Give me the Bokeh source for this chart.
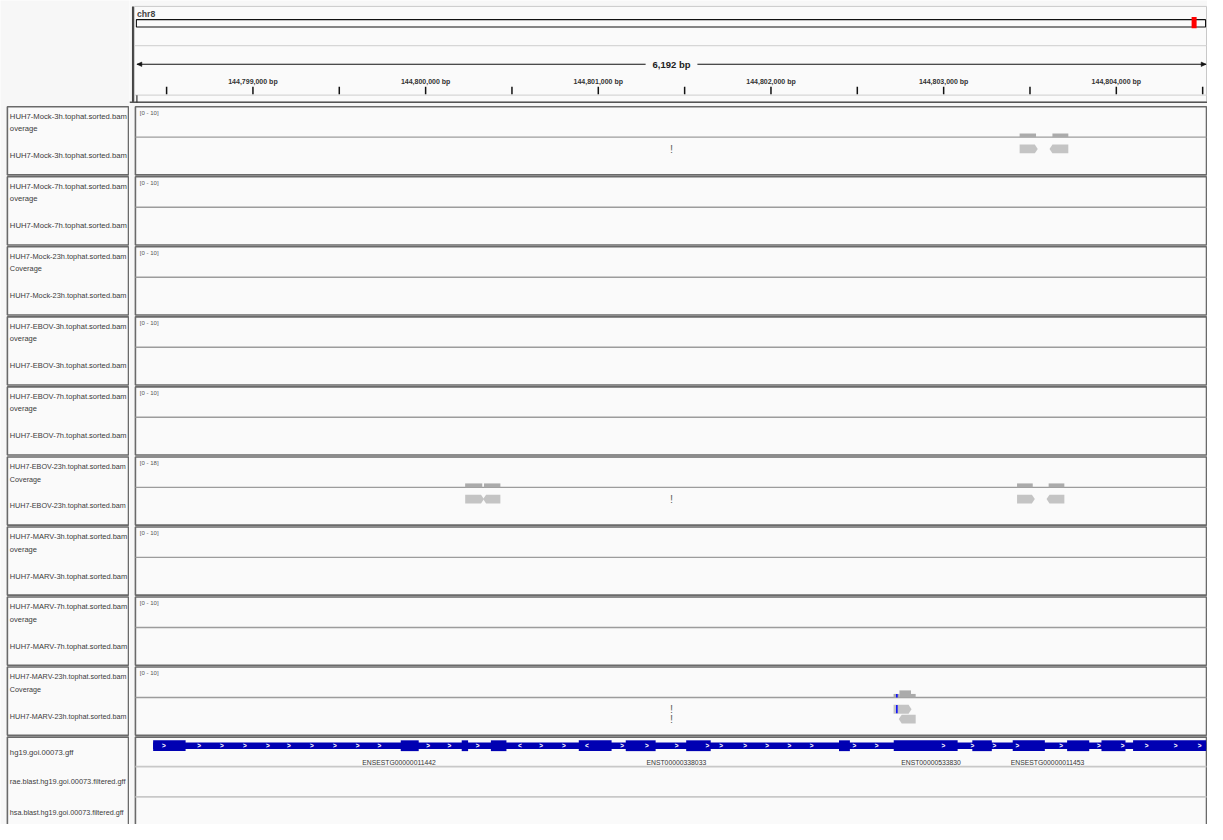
from bokeh.plotting import figure
from bokeh.models import Range1d
from bokeh.layouts import row
from bokeh.core.properties import value
from bokeh.embed import file_html
from bokeh.resources import INLINE

# ---------------- data ----------------
CHROM = "chr8"
CHROM_LEN = 146364022
VIEW_START = 144798328
VIEW_END = 144804520
SPAN_LABEL = "6,192 bp"

TICKS = [144798500, 144799000, 144799500, 144800000, 144800500, 144801000, 144801500,
         144802000, 144802500, 144803000, 144803500, 144804000, 144804500]
LABEL_TICKS = [144799000, 144800000, 144801000, 144802000, 144803000, 144804000]
TICK_LABELS = ["144,799,000 bp", "144,800,000 bp", "144,801,000 bp",
               "144,802,000 bp", "144,803,000 bp", "144,804,000 bp"]

TRACK_NAMES = ["HUH7-Mock-3h.tophat.sorted.bam", "HUH7-Mock-7h.tophat.sorted.bam",
               "HUH7-Mock-23h.tophat.sorted.bam", "HUH7-EBOV-3h.tophat.sorted.bam",
               "HUH7-EBOV-7h.tophat.sorted.bam", "HUH7-EBOV-23h.tophat.sorted.bam",
               "HUH7-MARV-3h.tophat.sorted.bam", "HUH7-MARV-7h.tophat.sorted.bam",
               "HUH7-MARV-23h.tophat.sorted.bam"]
COV_CAPTIONS = ["overage", "overage", "Coverage", "overage", "overage", "Coverage",
                "overage", "overage", "Coverage"]
SCALE_MAX = [10, 10, 10, 10, 10, 18, 10, 10, 10]

COV_TRACK = [0, 0, 5, 5, 5, 5, 8, 8, 8]
COV_START = [144803440, 144803630, 144800229, 144800338, 144803425, 144803608,
             144802710, 144802744, 144802811]
COV_END = [144803535, 144803722, 144800328, 144800433, 144803516, 144803699,
           144802744, 144802811, 144802838]
COV_VALUE = [1, 1, 2, 2, 2, 2, 1, 2, 1]

READ_TRACK = [0, 0, 5, 5, 5, 5, 8, 8]
READ_START = [144803440, 144803613, 144800229, 144800333, 144803425, 144803596,
              144802710, 144802740]
READ_END = [144803545, 144803722, 144800338, 144800433, 144803528, 144803699,
            144802814, 144802838]
READ_STRAND = ["+", "-", "+", "-", "+", "-", "+", "-"]
READ_ROW = [0, 0, 0, 0, 0, 0, 0, 1]

MISMATCH_TRACK = [8]
MISMATCH_POS = [144802729]
MISMATCH_ROW = [0]
MISMATCH_COLOR = ["#0000FF"]

MARK_TRACK = [0, 5, 8, 8]
MARK_ROW = [0, 0, 0, 1]
MARK_POS = [144801424, 144801424, 144801424, 144801424]

GENE_START = 144798422
GENE_END = 144804520
EXON_START = [144798422, 144799856, 144800209, 144800378, 144800887, 144801159,
              144801509, 144802394, 144802711, 144803166, 144803400, 144803715,
              144803914, 144804097]
EXON_END = [144798610, 144799960, 144800246, 144800468, 144801077, 144801332,
            144801651, 144802457, 144803081, 144803279, 144803586, 144803843,
            144804053, 144804520]
STRAND_POS = [144798484, 144798688, 144798820, 144798953, 144799086, 144799208,
              144799341, 144799474, 144799606, 144799733, 144800015, 144800137,
              144800301, 144800546, 144800669, 144800801, 144800934, 144801138,
              144801281, 144801454, 144801632, 144801711, 144801850, 144801978,
              144802107, 144802236, 144802483, 144802612, 144802998, 144803166,
              144803294, 144803427, 144803681, 144803899, 144804037, 144804175,
              144804344, 144804482]
STRAND_SYM = [">"] * 13 + ["<"] + [">"] * 2 + ["<"] + [">"] * 21
GENE_LABELS = ["ENSESTG00000011442", "ENST00000338033", "ENST00000533830",
               "ENSESTG00000011453"]
GENE_LABEL_POS = [144799846, 144801452, 144802927, 144803602]

GFF_TRACKS = ["hg19.goi.00073.gff", "rae.blast.hg19.goi.00073.filtered.gff",
              "hsa.blast.hg19.goi.00073.filtered.gff"]

# ---------------- layout / style ----------------
FONT = value("Liberation Sans")
Y_TOP, Y_BOT = 0.0, 840.0
TRACK0, PITCH, BOX_H, SEP = 108.3, 71.4, 69.5, 31.0
GFF_TOP = TRACK0 + PITCH * len(TRACK_NAMES)
NAME_SIZES = ["7.7px", "7.7px", "7.4px", "7.5px", "7.5px", "7.2px", "7.5px", "7.5px", "7.2px"]
GFF_NAME_SIZES = ["7.7px", "7.4px", "7.2px"]
BG = "#F7F7F7"
PANEL = "#FAFAFA"
BORDER = "#6A6A6A"
NAME_X = 9.5

BPPX = (VIEW_END - VIEW_START) / 1083.0
X_LO = VIEW_START - 7.5 * BPPX
X_HI = VIEW_END + 1.4 * BPPX
PANEL_L = VIEW_START - 1.5 * BPPX
PANEL_R = VIEW_END + 0.4 * BPPX
TIP = 3 * BPPX
CENTER = (VIEW_START + VIEW_END) / 2


def lin_range(px_a, v_a, px_b, v_b):
    k = (v_b - v_a) / (px_b - px_a)
    return Range1d(start=v_a + (Y_BOT - px_a) * k, end=v_a + (Y_TOP - px_a) * k)


def base_fig(w, xr):
    f = figure(width=w, height=824, x_range=xr, y_range=Range1d(Y_BOT, Y_TOP),
               output_backend="svg", toolbar_location=None, min_border=0)
    f.axis.visible = False
    f.grid.visible = False
    f.outline_line_color = None
    f.background_fill_color = BG
    f.border_fill_color = BG
    return f


# ---------------- names panel ----------------
n = base_fig(129, Range1d(0, 131))
tops = [TRACK0 + PITCH * i for i in range(len(TRACK_NAMES))]
n.quad(left=7, right=130, top=tops, bottom=[t + BOX_H for t in tops],
       fill_color=PANEL, line_color=BORDER, line_width=1.6)
n.quad(left=7, right=130, top=GFF_TOP, bottom=850, fill_color=PANEL,
       line_color=BORDER, line_width=1.6)
for dy, labels in ((10, TRACK_NAMES), (22.5, COV_CAPTIONS), (50, TRACK_NAMES)):
    n.text(x=NAME_X, y=[t + dy for t in tops], text=labels, text_font=FONT,
           text_font_size=NAME_SIZES, text_color="#3A3A3A", text_baseline="middle")
n.text(x=NAME_X, y=[GFF_TOP + 15.5, GFF_TOP + 45.5, GFF_TOP + 76.5], text=GFF_TRACKS,
       text_font=FONT, text_font_size=GFF_NAME_SIZES, text_color="#3A3A3A",
       text_baseline="middle")

# ---------------- data panel ----------------
p = base_fig(1078, Range1d(X_LO, X_HI))
p.extra_x_ranges = {"chrom": Range1d(-7 / 1083 * CHROM_LEN, CHROM_LEN * (1 + 2 / 1083))}

# header
p.quad(left=VIEW_START - 2.5 * BPPX, right=PANEL_R, top=6, bottom=103.5,
       fill_color=PANEL, line_color="#C8C8C8", line_width=1)
p.segment(x0=VIEW_START - 2 * BPPX, x1=PANEL_R, y0=[46, 96.5], y1=[46, 96.5],
          line_color="#D6D6D6", line_width=1.2)
p.segment(x0=VIEW_START - 4 * BPPX, x1=VIEW_START - 4 * BPPX, y0=6, y1=104,
          line_color="#444444", line_width=2)
p.segment(x0=X_LO, x1=X_HI, y0=103.8, y1=103.8, line_color="#555555", line_width=1.5)
p.segment(x0=VIEW_START, x1=VIEW_START, y0=96.5, y1=104, line_color="#333333",
          line_width=1.2)
p.text(x=VIEW_START, y=13.5, text=[CHROM], text_font=FONT, text_font_size=value("8.7px"),
       text_font_style="bold", text_color="#444444", text_baseline="middle")
p.quad(left=0, right=CHROM_LEN, top=19.5, bottom=27, fill_color="#FBFBFB",
       line_color="#111111", line_width=1.1, x_range_name="chrom")
p.rect(x=[CENTER], y=22.5, width=5, width_units="screen", height=11.5,
       fill_color="#FF0000", line_color=None, x_range_name="chrom")

# ruler
RULER_Y = 65
GAP = 150
p.segment(x0=[VIEW_START, CENTER + GAP], x1=[CENTER - GAP, VIEW_END],
          y0=RULER_Y, y1=RULER_Y, line_color="#111111", line_width=1.2)
p.patches(xs=[[VIEW_START, VIEW_START + 5 * BPPX, VIEW_START + 5 * BPPX],
              [VIEW_END, VIEW_END - 5 * BPPX, VIEW_END - 5 * BPPX]],
          ys=[[RULER_Y, RULER_Y - 2.3, RULER_Y + 2.3]] * 2,
          fill_color="#111111", line_color="#111111", line_width=0.5)
p.text(x=[CENTER], y=RULER_Y, text=[SPAN_LABEL], text_font=FONT,
       text_font_size=value("9.5px"), text_font_style="bold", text_color="#222222",
       text_align="center", text_baseline="middle")
p.segment(x0=TICKS, x1=TICKS, y0=88, y1=95.5, line_color="#111111", line_width=1.5)
p.text(x=LABEL_TICKS, y=83, text=TICK_LABELS, text_font=FONT,
       text_font_size=value("7px"), text_font_style="bold", text_color="#333333",
       text_align="center", text_baseline="middle")

# bam tracks
p.quad(left=PANEL_L, right=PANEL_R, top=tops, bottom=[t + BOX_H for t in tops],
       fill_color=PANEL, line_color=BORDER, line_width=1.6)
p.segment(x0=PANEL_L, x1=PANEL_R, y0=[t + SEP for t in tops], y1=[t + SEP for t in tops],
          line_color="#9C9C9C", line_width=1.4)
p.text(x=VIEW_START + 3 * BPPX, y=[t + 6.3 for t in tops],
       text=["[0 - %d]" % m for m in SCALE_MAX], text_font=FONT,
       text_font_size=value("6px"), text_color="#555555", text_baseline="middle")

extra = {}
for t, top in enumerate(tops):
    extra["cov%d" % t] = lin_range(top + SEP, 0, top + SEP - 36, SCALE_MAX[t])
    extra["row%d" % t] = lin_range(top + 43, 0, top + 53, 1)
p.extra_y_ranges = extra

for t in range(len(TRACK_NAMES)):
    cname, rname = "cov%d" % t, "row%d" % t
    ci = [i for i, tt in enumerate(COV_TRACK) if tt == t]
    if ci:
        p.quad(left=[COV_START[i] for i in ci], right=[COV_END[i] for i in ci],
               bottom=0, top=[COV_VALUE[i] for i in ci], y_range_name=cname,
               fill_color="#ABABAB", line_color=None)
    ri = [i for i, tt in enumerate(READ_TRACK) if tt == t]
    if ri:
        xs, ys = [], []
        for i in ri:
            s, e, r = READ_START[i], READ_END[i], READ_ROW[i]
            if READ_STRAND[i] == "+":
                xs.append([s, e - TIP, e, e - TIP, s])
            else:
                xs.append([e, s + TIP, s, s + TIP, e])
            ys.append([r - 0.45, r - 0.45, r, r + 0.45, r + 0.45])
        p.patches(xs=xs, ys=ys, y_range_name=rname, fill_color="#C4C4C4", line_color=None)
    mi = [i for i, tt in enumerate(MISMATCH_TRACK) if tt == t]
    if mi:
        pos = [MISMATCH_POS[i] for i in mi]
        col = [MISMATCH_COLOR[i] for i in mi]
        p.segment(x0=pos, x1=pos, y0=0, y1=1, y_range_name=cname, line_color=col,
                  line_width=1.5)
        p.segment(x0=pos, x1=pos, y0=[MISMATCH_ROW[i] - 0.42 for i in mi],
                  y1=[MISMATCH_ROW[i] + 0.42 for i in mi], y_range_name=rname,
                  line_color=col, line_width=1.5)
    ki = [i for i, tt in enumerate(MARK_TRACK) if tt == t]
    if ki:
        p.text(x=[MARK_POS[i] for i in ki], y=[MARK_ROW[i] for i in ki],
               text=["!"] * len(ki), y_range_name=rname, text_font=FONT,
               text_font_size=value("11px"), text_color="#666666", text_align="center",
               text_baseline="middle")

# gff tracks
p.quad(left=PANEL_L, right=PANEL_R, top=GFF_TOP, bottom=850, fill_color=PANEL,
       line_color=BORDER, line_width=1.6)
p.segment(x0=PANEL_L, x1=PANEL_R, y0=[GFF_TOP + 30, GFF_TOP + 61],
          y1=[GFF_TOP + 30, GFF_TOP + 61], line_color="#C8C8C8", line_width=1.8)
GENE_Y = GFF_TOP + 8.8
p.quad(left=GENE_START, right=GENE_END, top=GENE_Y - 3.3, bottom=GENE_Y + 3.3,
       fill_color="#0000B2", line_color=None)
p.quad(left=EXON_START, right=EXON_END, top=GENE_Y - 5.5, bottom=GENE_Y + 5.5,
       fill_color="#0000B2", line_color=None)
p.text(x=STRAND_POS, y=GENE_Y, text=STRAND_SYM, text_font=FONT,
       text_font_size=value("6.5px"), text_font_style="bold", text_color="#FFFFFF",
       text_align="center", text_baseline="middle")
p.text(x=GENE_LABEL_POS, y=GFF_TOP + 25.5, text=GENE_LABELS, text_font=FONT,
       text_font_size=value("6.8px"), text_color="#333333", text_align="center",
       text_baseline="middle")

layout = row(n, p)
open("out.html", "w").write(file_html(layout, INLINE))
